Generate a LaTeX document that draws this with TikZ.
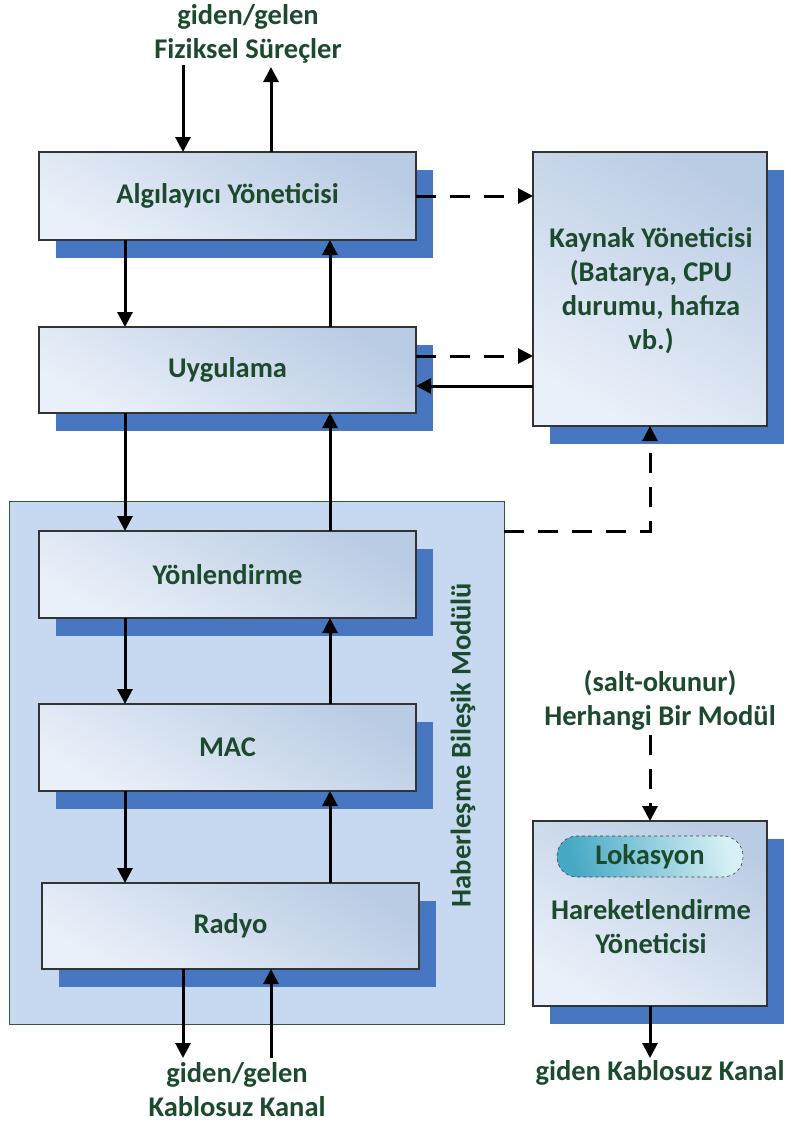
\documentclass[tikz,border=0pt]{standalone}
\usepackage{fontspec}
\setmainfont{Carlito}
\usetikzlibrary{arrows.meta,shadows,positioning}
\definecolor{txtgreen}{RGB}{28,74,44}
\definecolor{shadowblue}{RGB}{71,119,192}
\definecolor{boxlight}{RGB}{234,240,249}
\definecolor{boxdark}{RGB}{186,204,228}
\definecolor{modfill}{RGB}{198,217,240}
\definecolor{modline}{RGB}{50,90,58}
\definecolor{tealdark}{RGB}{70,168,196}
\definecolor{teallight}{RGB}{215,240,245}
\begin{document}
\begin{tikzpicture}[x=1pt,y=-1pt,
  every node/.style={font=\fontsize{28.5}{34}\selectfont\bfseries, text=txtgreen, align=center, inner sep=0pt, outer sep=0pt},
  box/.style={draw=black!80, line width=1.1pt, shading=axis, top color=boxdark, bottom color=boxlight, shading angle=-30,
    general shadow={fill=shadowblue, shadow xshift=17pt, shadow yshift=-18pt}},
  arr/.style={line width=3pt, -{Triangle[length=15pt,width=15pt]}},
  darr/.style={arr, dash pattern=on 20pt off 14pt}]
\useasboundingbox (0,0) rectangle (790,1122);

% communication module container
\node[draw=modline, line width=1pt, fill=modfill, minimum width=495pt, minimum height=523pt] (mod) at (256.5,762.5) {};
\node[rotate=90] (modlbl) at (463,745) {Haberleşme Bileşik Modülü};

% layer boxes
\node[box, minimum width=377pt, minimum height=88pt] (alg) at (227.5,196) {Algılayıcı Yöneticisi};
\node[box, minimum width=377pt, minimum height=86pt] (app) at (227.5,370) {Uygulama};
\node[box, minimum width=377pt, minimum height=87pt] (yon) at (227.5,574.5) {Yönlendirme};
\node[box, minimum width=377pt, minimum height=87pt] (mac) at (227.5,747.5) {MAC};
\node[box, minimum width=377pt, minimum height=86pt] (rad) at (230.5,926) {Radyo};

% resource manager
\node[box, minimum width=234pt, minimum height=274pt] (kay) at (650,289) {};
\node (kaytxt) at (651,291) {Kaynak Yöneticisi\\(Batarya, CPU\\durumu, hafıza\\vb.)};

% mobility manager
\node[box, minimum width=234pt, minimum height=185pt] (har) at (650,913.5) {};
\node[draw=black!75, dashed, line width=0.6pt, rounded corners=20pt, shading=axis, top color=teallight, bottom color=tealdark, shading angle=-75,
  minimum width=186pt, minimum height=41pt] (lok) at (650,856.5) {Lokasyon};
\node (hartxt) at (651,927) {Hareketlendirme\\Yöneticisi};

% outside labels
\node (phys) at (248,34) {giden/gelen\\Fiziksel Süreçler};
\node (wch) at (237,1090) {giden/gelen\\Kablosuz Kanal};
\node (anymod) at (660,700) {(salt-okunur)\\Herhangi Bir Modül};
\node (wout) at (660,1073) {giden Kablosuz Kanal};

% arrow columns and free ends
\coordinate (cL) at (125,0);
\coordinate (cR) at (330,0);
\coordinate (pin) at (183,65);
\coordinate (pout) at (271,67);
\coordinate (win) at (271,1058);
\coordinate (wout2) at (183,1058);
\coordinate (bend) at (650,531);
\coordinate (anyend) at (650,735);
\coordinate (hout) at (650,1058);

% physical processes
\draw[arr] (pin) -- (alg.north -| pin);
\draw[arr] (alg.north -| pout) -- (pout);

% protocol stack: downward and upward
\draw[arr] (alg.south -| cL) -- (app.north -| cL);
\draw[arr] (app.south -| cL) -- (yon.north -| cL);
\draw[arr] (yon.south -| cL) -- (mac.north -| cL);
\draw[arr] (mac.south -| cL) -- (rad.north -| cL);
\draw[arr] (app.north -| cR) -- (alg.south -| cR);
\draw[arr] (yon.north -| cR) -- (app.south -| cR);
\draw[arr] (mac.north -| cR) -- (yon.south -| cR);
\draw[arr] (rad.north -| cR) -- (mac.south -| cR);

% wireless channel
\draw[arr] (rad.south -| wout2) -- (wout2);
\draw[arr] (win) -- (rad.south -| win);

% resource manager links
\draw[darr] (alg.east) -- (kay.west |- alg.east);
\draw[darr] ([yshift=14pt]app.east) -- ([yshift=14pt]kay.west |- app.east);
\draw[arr] ([yshift=-16pt]kay.west |- app.east) -- ([yshift=-16pt]app.east);
\draw[darr] (mod.east |- bend) -- (bend) -- (kay.south);

% mobility manager links
\draw[darr] (anyend) -- (har.north);
\draw[arr] (har.south) -- (hout);
\end{tikzpicture}
\end{document}
